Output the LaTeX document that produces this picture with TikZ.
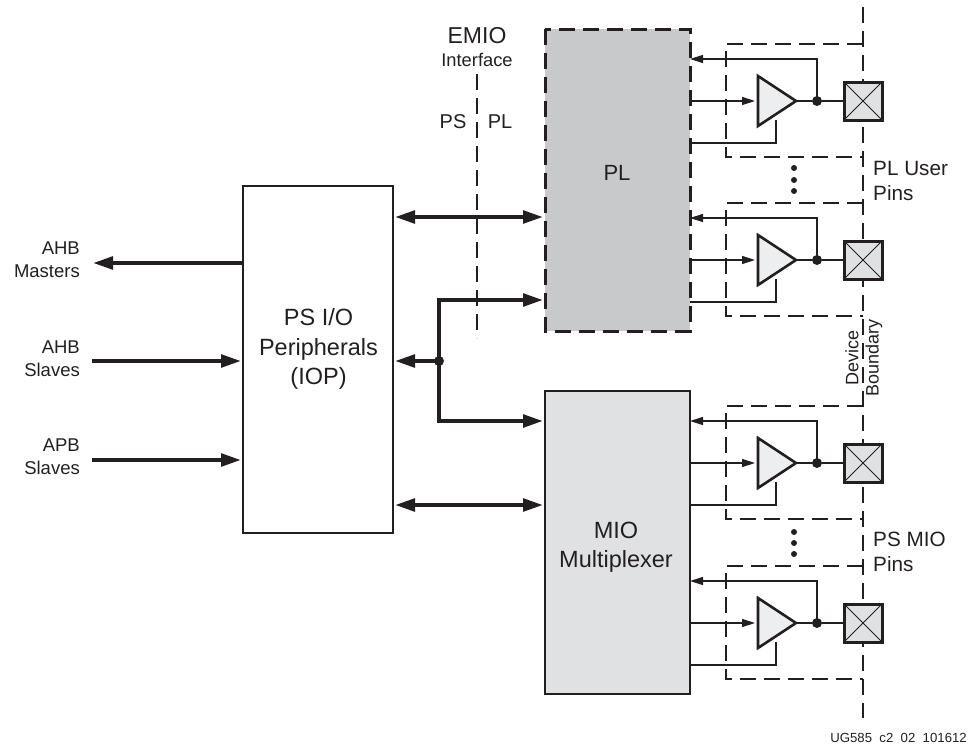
\documentclass[tikz,border=0pt]{standalone}
\usepackage{fontspec}
\setmainfont{Liberation Sans}
\usetikzlibrary{arrows.meta,shapes.geometric,calc}
\definecolor{ink}{HTML}{231F20}
\definecolor{plgray}{HTML}{C8C9CB}
\definecolor{miogray}{HTML}{E0E1E3}
\definecolor{bufgray}{HTML}{EDEEF0}
\newcommand{\fs}[2]{\fontsize{#1}{#2}\selectfont}
\tikzset{
  x=1pt,y=-1pt,
  every node/.style={text=ink},
  block/.style={draw=ink,line width=2.6pt,anchor=north west,inner sep=0pt,outer sep=0pt,align=center},
  thickarrow/.style={draw=ink,line width=4pt,line join=miter,shorten >=2pt,-{Triangle[length=20pt,width=12.5pt]}},
  doublearrow/.style={draw=ink,line width=4pt,shorten >=2pt,shorten <=2pt,{Triangle[length=20pt,width=12.5pt]}-{Triangle[length=20pt,width=12.5pt]}},
  thinarrow/.style={draw=ink,line width=1.4pt,-{Triangle[length=13pt,width=8pt]}},
  thinline/.style={draw=ink,line width=1.4pt},
  guide/.style={draw=ink,line width=1.2pt,dash pattern=on 16pt off 8pt},
  bufbox/.style={draw=ink,fill=bufgray,line width=2.6pt,isosceles triangle,isosceles triangle apex angle=65,isosceles triangle stretches,minimum width=50pt,minimum height=38pt,inner sep=0pt,outer sep=0pt,anchor=west},
  pinbox/.style={draw=ink,fill=miogray,line width=3pt,minimum width=38pt,minimum height=38pt,inner sep=0pt,outer sep=0pt},
  dotnode/.style={circle,fill=ink,minimum size=10pt,inner sep=0pt,outer sep=0pt},
  smalldot/.style={circle,fill=ink,minimum size=6pt,inner sep=0pt,outer sep=0pt},
  sidelab/.style={align=right,anchor=east,inner sep=0pt,font=\fs{18.5}{23}},
  biglab/.style={align=center,inner sep=0pt,font=\fs{23.5}{29.5}},
  pinlab/.style={align=left,anchor=west,inner sep=0pt,font=\fs{20.7}{25}},
  vertlab/.style={rotate=90,inner sep=0pt,font=\fs{18}{18}},
  emiolab/.style={inner sep=0pt,font=\fs{20}{20}},
}
\begin{document}
\begin{tikzpicture}
\useasboundingbox (0,0) rectangle (970,744);
% device boundary
\coordinate (bt) at (863,7);
\coordinate (bb) at (863,718);
\draw[guide] (bt) -- (bb);
% EMIO line
\coordinate (et) at (477,74);
\coordinate (eb) at (477,338);
\draw[guide] (et) -- (eb);
% blocks
\node[block,minimum width=150pt,minimum height=347pt,fill=white] (iop) at (243,186) {};
\node[biglab] at (318.5,349) {PS I/O\\Peripherals\\(IOP)};
\node[block,minimum width=145pt,minimum height=302pt,fill=plgray,draw=none] (pl) at (545,29) {};
\draw[draw=ink,line width=3pt,dash pattern=on 16pt off 8pt] (pl.north west) rectangle (pl.south east);
\node[font=\fs{22}{22},inner sep=0pt] at (617,173) {PL};
\node[block,minimum width=145pt,minimum height=303pt,fill=miogray] (mio) at (545,391) {};
\node[biglab] at (616,547) {MIO\\Multiplexer};
% buffer cells
\foreach \n/\yb/\blk in {a/101/pl,b/260/pl,c/463/mio,d/623/mio}{
  \coordinate (\n tl) at (726,\yb-57);
  \coordinate (\n bl) at (726,\yb+56);
  \coordinate (\n tr) at (863,\yb-57);
  \coordinate (\n br) at (863,\yb+56);
  \draw[guide] (\n tr) -- (\n tl) -- (\n bl) -- (\n br);
  \node[bufbox] (\n buf) at (758,\yb) {};
  \node[pinbox] (\n pin) at (863,\yb) {};
  \draw[draw=ink,line width=1pt] (\n pin.north west) -- (\n pin.south east);
  \draw[draw=ink,line width=1pt] (\n pin.north east) -- (\n pin.south west);
  \node[dotnode] (\n dot) at (817,\yb) {};
  \draw[thinline] (\n buf.apex) -- (\n dot) -- (\n pin.west);
  \draw[thinarrow] (\n dot.center) -- (817,\yb-42) -- (\blk.east |- 0,\yb-42);
  \draw[thinarrow,shorten >=3pt] (\blk.east |- 0,\yb) -- (\n buf.west);
  \draw[thinline] (\blk.east |- 0,\yb+42) -- (776,\yb+42) -- (776,\yb+19);
}
% ellipsis dots
\foreach \n/\yd in {u/168,v/180,w/191,x/532,y/543,z/554}{
  \node[smalldot] (\n) at (794,\yd) {};
}
% thick connectors
\draw[doublearrow] (iop.east |- 0,217) -- (pl.west |- 0,217);
\node[dotnode] (junc) at (439,361) {};
\draw[thickarrow] (junc.center) -- (iop.east |- junc);
\draw[thickarrow] (junc.center) -- (439,300) -- (pl.west |- 0,300);
\draw[thickarrow] (junc.center) -- (439,421) -- (mio.west |- 0,421);
\draw[doublearrow] (iop.east |- 0,505) -- (mio.west |- 0,505);
\coordinate (m) at (91,263);
\draw[thickarrow] (iop.west |- m) -- (m);
\coordinate (s1) at (92,361);
\draw[thickarrow] (s1) -- (iop.west |- s1);
\coordinate (s2) at (92,460);
\draw[thickarrow] (s2) -- (iop.west |- s2);
% labels
\node[sidelab] at (80,260) {AHB\\Masters};
\node[sidelab] at (80,359) {AHB\\Slaves};
\node[sidelab] at (80,457) {APB\\Slaves};
\node[inner sep=0pt,font=\fs{23}{23}] at (477,36) {EMIO};
\node[inner sep=0pt,font=\fs{18.3}{18.3}] at (477,60) {Interface};
\node[emiolab] at (453,122) {PS};
\node[emiolab] at (500,122) {PL};
\node[pinlab] at (873,181) {PL User\\Pins};
\node[pinlab] at (873,552) {PS MIO\\Pins};
\node[vertlab] at (852,358) {Device};
\node[vertlab] at (874,358) {Boundary};
\node[inner sep=0pt,font=\fs{13.2}{13.2},anchor=east] at (967,738) {UG585\ \ c2\ \ 02\ \ 101612};
\end{tikzpicture}
\end{document}
